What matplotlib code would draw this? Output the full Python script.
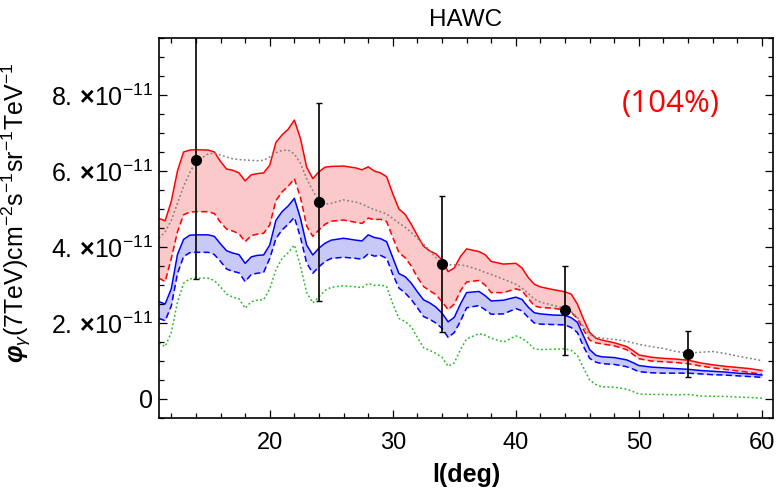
import numpy as np
import matplotlib
matplotlib.use("Agg")
import matplotlib.pyplot as plt
from matplotlib.ticker import MultipleLocator

plt.rcParams['font.family'] = ['Liberation Sans', 'DejaVu Sans']
plt.rcParams['mathtext.fontset'] = 'custom'
plt.rcParams['mathtext.rm'] = 'Liberation Sans'
plt.rcParams['mathtext.it'] = 'Liberation Sans:italic'
plt.rcParams['mathtext.bf'] = 'Liberation Sans:bold'
plt.rcParams['mathtext.bfit'] = 'Liberation Sans:bold:italic'

SCALE = 1e-11

l_deg = [11, 11.5, 12, 12.5, 13, 13.5, 14, 15, 15.5, 16, 16.5, 17, 17.5, 18, 18.5, 19, 19.5,
         20, 20.5, 21, 21.5, 22, 22.5, 23, 23.5, 24, 24.5, 25, 26, 27, 27.5, 28, 28.5, 29, 29.5,
         30, 30.5, 31, 31.5, 32, 32.5, 33, 33.5, 34, 34.5, 35, 35.5, 36, 37, 37.5, 38, 39, 40,
         40.5, 41, 41.5, 42, 43, 44, 44.5, 45, 45.5, 46, 46.5, 47, 48, 49, 49.5, 50, 51, 52, 53,
         54, 55, 56, 57, 58, 59, 60]

red_upper = [4.75, 4.69, 5.2, 6.0, 6.5, 6.55, 6.56, 6.55, 6.5, 6.25, 6.05, 6.02, 5.95, 5.74, 5.9, 5.93, 5.95,
             6.15, 6.75, 6.95, 7.1, 7.34, 6.85, 6.1, 5.8, 5.98, 6.1, 6.12, 6.13, 6.08, 6.03, 6.11, 6.0, 5.95, 5.85,
             5.4, 5.0, 4.86, 4.6, 4.3, 4.02, 3.9, 3.82, 3.66, 3.35, 3.45, 3.75, 3.95, 3.88, 3.8, 3.62, 3.55, 3.57,
             3.45, 3.2, 3.02, 2.95, 2.88, 2.82, 2.76, 2.5, 2.1, 1.75, 1.6, 1.55, 1.48, 1.38, 1.28, 1.16, 1.1, 1.07, 1.05,
             1.02, 0.95, 0.9, 0.86, 0.83, 0.8, 0.75]

red_lower = [3.18, 3.09, 3.7, 4.4, 4.85, 4.92, 4.93, 4.93, 4.88, 4.65, 4.47, 4.42, 4.35, 4.14, 4.3, 4.34, 4.36,
             4.58, 5.22, 5.45, 5.6, 5.8, 5.3, 4.55, 4.28, 4.45, 4.6, 4.68, 4.71, 4.65, 4.62, 4.76, 4.72, 4.73, 4.67,
             4.25, 3.85, 3.72, 3.5, 3.2, 2.96, 2.85, 2.75, 2.56, 2.35, 2.5, 2.85, 3.08, 3.12, 3.0, 2.8, 2.8, 2.9,
             2.85, 2.65, 2.45, 2.41, 2.39, 2.34, 2.28, 2.12, 1.82, 1.55, 1.48, 1.45, 1.4, 1.3, 1.18, 1.06, 1.0, 0.98, 0.96,
             0.93, 0.87, 0.82, 0.78, 0.74, 0.7, 0.65]

blue_upper = [2.56, 2.5, 2.9, 3.8, 4.2, 4.31, 4.32, 4.32, 4.28, 4.08, 3.9, 3.84, 3.8, 3.57, 3.74, 3.78, 3.79,
              4.05, 4.7, 4.93, 5.08, 5.28, 4.75, 4.05, 3.79, 3.97, 4.1, 4.18, 4.23, 4.18, 4.16, 4.32, 4.25, 4.22, 4.14,
              3.72, 3.3, 3.22, 3.05, 2.82, 2.61, 2.53, 2.42, 2.26, 2.03, 2.15, 2.5, 2.8, 2.83, 2.72, 2.58, 2.6, 2.68,
              2.62, 2.42, 2.27, 2.24, 2.21, 2.2, 2.14, 2.02, 1.66, 1.3, 1.15, 1.11, 1.09, 1.03, 0.96, 0.88, 0.84, 0.82, 0.8,
              0.78, 0.75, 0.73, 0.71, 0.68, 0.66, 0.63]

blue_lower = [2.12, 2.06, 2.45, 3.3, 3.75, 3.85, 3.86, 3.86, 3.8, 3.62, 3.42, 3.36, 3.32, 3.09, 3.28, 3.31, 3.33,
              3.7, 4.22, 4.45, 4.6, 4.78, 4.25, 3.58, 3.31, 3.48, 3.62, 3.7, 3.73, 3.7, 3.68, 3.82, 3.76, 3.78, 3.7,
              3.28, 2.92, 2.79, 2.62, 2.4, 2.17, 2.1, 2.0, 1.86, 1.62, 1.75, 2.05, 2.4, 2.46, 2.35, 2.23, 2.24, 2.38,
              2.32, 2.15, 2.0, 1.97, 1.96, 1.95, 1.88, 1.75, 1.38, 1.07, 0.97, 0.93, 0.91, 0.85, 0.79, 0.72, 0.69, 0.68, 0.68,
              0.68, 0.66, 0.64, 0.63, 0.61, 0.59, 0.57]

green_curve = [1.47, 1.38, 1.75, 2.55, 3.05, 3.16, 3.18, 3.18, 3.12, 2.95, 2.76, 2.68, 2.64, 2.39, 2.56, 2.6, 2.61,
               2.9, 3.4, 3.7, 3.85, 4.05, 3.5, 2.8, 2.53, 2.69, 2.86, 2.94, 2.98, 2.95, 2.93, 3.04, 2.99, 3.0, 2.96,
               2.5, 2.12, 2.04, 1.9, 1.62, 1.35, 1.28, 1.2, 1.1, 0.86, 0.95, 1.3, 1.58, 1.72, 1.68, 1.6, 1.5, 1.66,
               1.6, 1.48, 1.32, 1.3, 1.31, 1.32, 1.28, 1.15, 0.82, 0.5, 0.38, 0.32, 0.31, 0.26, 0.2, 0.13, 0.12, 0.12, 0.11,
               0.12, 0.08, 0.07, 0.07, 0.05, 0.04, 0.02]

gray_curve = [4.23, 4.4, 4.7, 5.15, 5.6, 5.95, 6.25, 6.45, 6.47, 6.42, 6.37, 6.32, 6.3, 6.29, 6.28, 6.27, 6.28,
              6.37, 6.48, 6.54, 6.55, 6.45, 6.2, 5.8, 5.48, 5.22, 5.13, 5.15, 5.24, 5.18, 5.13, 5.05, 4.98, 4.93, 4.87,
              4.75, 4.63, 4.52, 4.38, 4.23, 4.08, 3.9, 3.72, 3.57, 3.53, 3.53, 3.53, 3.5, 3.4, 3.33, 3.28, 3.15, 3.02,
              2.92, 2.78, 2.63, 2.55, 2.47, 2.38, 2.3, 2.15, 1.9, 1.7, 1.63, 1.6, 1.57, 1.52, 1.48, 1.44, 1.38, 1.33, 1.25,
              1.21, 1.23, 1.25, 1.2, 1.13, 1.07, 1.01]

data_l = [14, 24, 34, 44, 54]
data_flux = [6.29, 5.18, 3.55, 2.34, 1.18]
data_err_low = [3.13, 2.6, 1.78, 1.17, 0.6]
data_err_high = [3.3, 2.6, 1.78, 1.17, 0.6]

ytick_vals = [0, 2, 4, 6, 8]
ytick_labels = ["0"] + [r"$%d.\,\mathbf{\times}10^{-11}$" % v for v in ytick_vals[1:]]
xtick_vals = [20, 30, 40, 50, 60]

x = np.array(l_deg)
s = lambda a: np.array(a) * SCALE

fig = plt.figure(figsize=(7.79, 4.91), dpi=100)
ax = fig.add_axes([159/779, 1-418/491, (773-159)/779, (418-38)/491])

ax.fill_between(x, s(red_lower), s(red_upper), color='#fbc9c9', lw=0)
ax.fill_between(x, s(blue_lower), s(blue_upper), color='#c9c9f7', lw=0)
ax.plot(x, s(red_upper), color='#ff0000', lw=1.1)
ax.plot(x, s(red_lower), color='#ff0000', lw=1.1, dashes=(4, 2.2))
ax.plot(x, s(blue_upper), color='#0000ff', lw=1.1)
ax.plot(x, s(blue_lower), color='#0000ff', lw=1.1, dashes=(4, 2.2))
ax.plot(x, s(green_curve), color='#22bb22', lw=1.1, dashes=(1.2, 1.6))
ax.plot(x, s(gray_curve), color='#808080', lw=1.1, dashes=(1.2, 1.6))

ax.errorbar(data_l, s(data_flux), yerr=[s(data_err_low), s(data_err_high)], fmt='o', color='black', ms=7,
            elinewidth=1.2, capsize=2.5, capthick=1.0, zorder=5)

ax.set_xlim(11.0, 60.9)
ax.set_ylim(-0.5e-11, 9.5e-11)
ax.set_xticks(xtick_vals)
ax.xaxis.set_minor_locator(MultipleLocator(2))
ax.set_yticks([v * SCALE for v in ytick_vals])
ax.set_yticklabels(ytick_labels)
ax.yaxis.set_minor_locator(MultipleLocator(0.5e-11))
ax.tick_params(which='both', direction='in', top=True, right=True, width=0.9)
ax.tick_params(which='major', length=6)
ax.tick_params(which='minor', length=3.5)
ax.tick_params(axis='x', which='major', pad=10, labelsize=17)
ax.tick_params(axis='y', which='major', pad=4, labelsize=18)
for sp in ax.spines.values():
    sp.set_linewidth(1.2)

ax.set_title("HAWC", fontsize=17.5, pad=9)
ax.set_xlabel(r"l(deg)", fontsize=18, fontweight='bold')
ax.xaxis.set_label_coords(0.5, -0.118)
ax.set_ylabel(r"$\mathbfit{\varphi}_{\gamma}$(7TeV)cm$^{-2}$s$^{-1}$sr$^{-1}$TeV$^{-1}$", fontsize=18)
ax.yaxis.set_label_coords(-0.205, 0.54)

ax.text(52.6, 7.76e-11, "(104%)", color='#ff0000', fontsize=22.5, family='Open Sans',
        ha='center', va='center')

fig.savefig("out.png", dpi=100)
